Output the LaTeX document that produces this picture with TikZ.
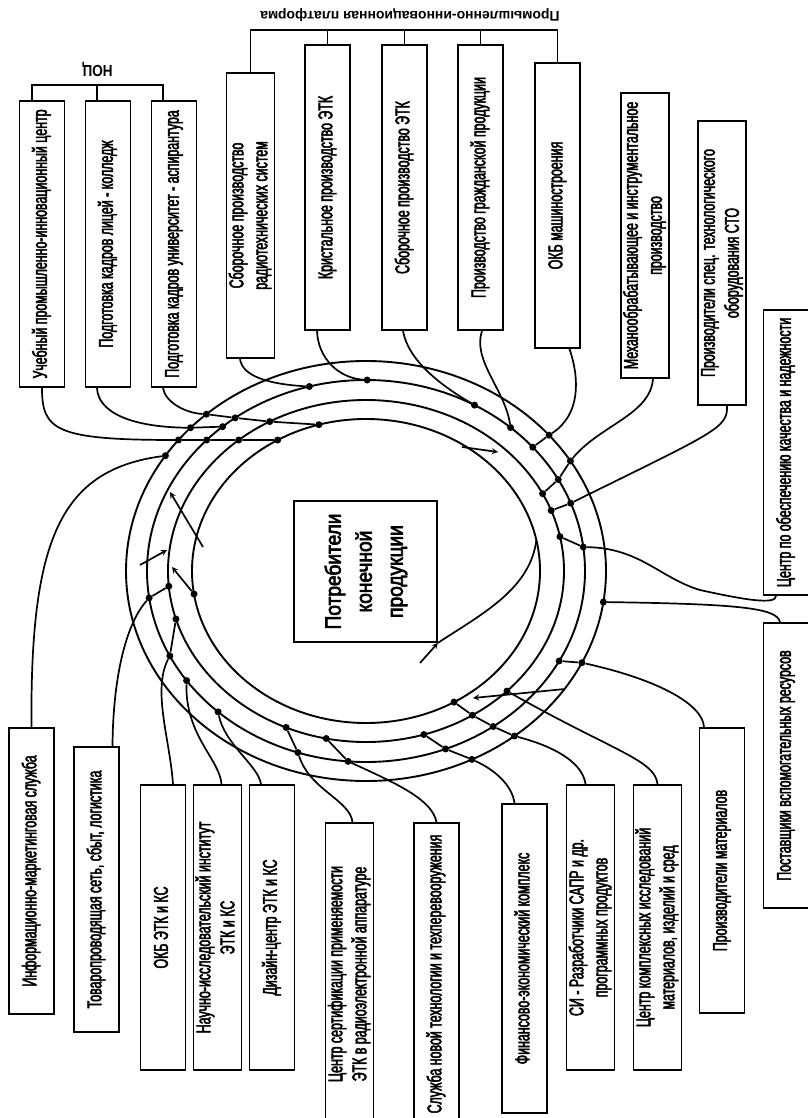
\documentclass[tikz,border=0pt]{standalone}
\usepackage{fontspec}
\setmainfont{Liberation Sans}
\newfontfamily\boxfont[FakeStretch=0.62, FakeBold=2.5]{Liberation Sans}
\newfontfamily\corefont[FakeStretch=0.87, FakeBold=3]{Liberation Sans}
\newfontfamily\headfont[FakeStretch=0.85]{Liberation Sans}
\usepackage{graphicx}
\newcommand{\uptext}[1]{\rotatebox{90}{\begin{tabular}{@{}c@{}}#1\end{tabular}}}

\tikzset{
	block/.style={draw, line width=1.8pt, minimum width=45pt, inner sep=0pt,
		font=\boxfont\fontsize{20}{24}\selectfont},
	ring/.style={line width=1.9pt},
	link/.style={line width=1.7pt},
	dot/.style={circle, fill, inner sep=0pt, minimum size=7pt},
}

\begin{document}
\begin{tikzpicture}[x=1pt, y=-1pt]

\useasboundingbox (0,0) rectangle (807,1118);

% Consumers in the middle
\node [draw,
	line width=1.8pt,
	minimum width=143pt,
	minimum height=141pt,
	font=\corefont\fontsize{22}{31}\selectfont
] (potreb) at (365.5,571.5) {\uptext{Потребители\\конечной\\продукции}};

% Rings
\coordinate (core) at (366,571);
\draw[ring] (core) ellipse [x radius=240, y radius=210];
\draw[ring] (core) ellipse [x radius=219, y radius=191];
\draw[ring] (core) ellipse [x radius=198, y radius=171];
\draw[ring] (core) ellipse [x radius=174, y radius=152];

% NOC blocks
\node[block, minimum height=286pt] (ucheb) at (42,244) {\uptext{Учебный промышленно-инновационный центр}};
\node[block, minimum height=286pt] (licey) at (108,244) {\uptext{Подготовка кадров лицей - колледж}};
\node[block, minimum height=286pt] (univer) at (174,244) {\uptext{Подготовка кадров университет - аспирантура}};

\node[rotate=180, font=\headfont\bfseries\fontsize{16}{18}\selectfont] (noc) at (97.5,69) {НОЦ};
\coordinate (nocbar) at (97,85);
\draw[link] ([xshift=-10pt]ucheb.north) |- (nocbar) -| ([xshift=-11pt]univer.north);
\draw[link] ([xshift=-11pt]licey.north) -- ([xshift=-11pt]licey.north |- nocbar);

% Platform blocks
\node[block, minimum height=285pt] (sbradio) at (250.5,215.5) {\uptext{Сборочное производство\\радиотехнических систем}};
\node[block, minimum height=285pt] (krist) at (327.5,187.5) {\uptext{Кристальное производство ЭТК}};
\node[block, minimum height=285pt] (sbetk) at (404.5,187.5) {\uptext{Сборочное производство ЭТК}};
\node[block, minimum height=285pt] (grazhd) at (480.5,187.5) {\uptext{Производство гражданской продукции}};
\node[block, minimum height=285pt] (okbmash) at (557.5,205.5) {\uptext{ОКБ машиностроения}};

\node[rotate=180, font=\bfseries\fontsize{14}{16}\selectfont] (platform) at (410,15) {Промышленно-инновационная платформа};
\coordinate (platbar) at (404.5,30);
\draw[link] (sbradio.north) |- (platbar) -| (okbmash.north);
\draw[link] (krist.north) -- (krist.north |- platbar);
\draw[link] (sbetk.north) -- (sbetk.north |- platbar);
\draw[link] (grazhd.north) -- (grazhd.north |- platbar);

% Right blocks
\node[block, minimum height=285pt] (mehano) at (645,235.5) {\uptext{Механообрабатывающее и инструментальное\\производство}};
\node[block, minimum height=284pt] (sto) at (722,263) {\uptext{Производители спец. технологического\\оборудования СТО}};
\node[block, minimum height=285pt] (kachestvo) at (786,452.5) {\uptext{Центр по обеспечению качества и надежности}};
\node[block, minimum height=285pt] (postav) at (786,765.5) {\uptext{Поставщики вспомогательных ресурсов}};
\node[block, minimum height=285pt] (materialy) at (722,870.5) {\uptext{Производители материалов}};

% Bottom blocks
\node[block, minimum height=285pt] (kompleks) at (657.5,927.5) {\uptext{Центр комплексных исследований\\материалов, изделий и сред}};
\node[block, minimum height=285pt] (si) at (590.5,927.5) {\uptext{СИ - Разработчики САПР и др.\\программных продуктов}};
\node[block, minimum height=309pt] (finans) at (524.5,958.5) {\uptext{Финансово-экономический комплекс}};
\node[block, minimum height=302pt] (sluzhba) at (436.5,974) {\uptext{Служба новой технологии и техперевооружения}};
\node[block, minimum height=302pt] (sert) at (349.5,974) {\uptext{Центр сертификации применяемости\\ЭТК в радиоэлектронной аппаратуре}};
\node[block, minimum height=285pt] (dizain) at (272,927.5) {\uptext{Дизайн-центр ЭТК и КС}};
\node[block, minimum height=285pt] (nii) at (217.5,927.5) {\uptext{Научно-исследовательский институт\\ЭТК и КС}};
\node[block, minimum height=285pt] (okbetk) at (163,927.5) {\uptext{ОКБ ЭТК и КС}};
\node[block, minimum height=285pt] (tovar) at (96.5,889.5) {\uptext{Товаропроводящая сеть, сбыт, логистика}};
\node[block, minimum height=286pt] (info) at (31.5,871) {\uptext{Информационно-маркетинговая служба}};

% Contact points on the rings
\node[dot] (uc1) at ([shift={(core)}]218.6:240 and 210) {};
\node[dot] (uc2) at ([shift={(core)}]223.3:219 and 191) {};
\node[dot] (uc3) at ([shift={(core)}]230.0:198 and 171) {};
\node[dot] (uc4) at ([shift={(core)}]239.5:174 and 152) {};
\node[dot] (li1) at ([shift={(core)}]223.0:240 and 210) {};
\node[dot] (li2) at ([shift={(core)}]229.1:219 and 191) {};
\node[dot] (un1) at ([shift={(core)}]228.3:240 and 210) {};
\node[dot] (un2) at ([shift={(core)}]233.3:219 and 191) {};
\node[dot] (un3) at ([shift={(core)}]240.9:198 and 171) {};
\node[dot] (un4) at ([shift={(core)}]254.3:174 and 152) {};
\node[dot] (sr1) at ([shift={(core)}]255.0:219 and 191) {};
\node[dot] (kr1) at ([shift={(core)}]270.3:219 and 191) {};
\node[dot] (se1) at ([shift={(core)}]299.7:219 and 191) {};
\node[dot] (gr1) at ([shift={(core)}]311.3:219 and 191) {};
\node[dot] (om1) at ([shift={(core)}]319.7:240 and 210) {};
\node[dot] (om2) at ([shift={(core)}]319.6:219 and 191) {};
\node[dot] (me1) at ([shift={(core)}]328.4:240 and 210) {};
\node[dot] (me2) at ([shift={(core)}]331.4:219 and 191) {};
\node[dot] (me3) at ([shift={(core)}]333.1:198 and 171) {};
\node[dot] (st1) at ([shift={(core)}]339.2:219 and 191) {};
\node[dot] (st2) at ([shift={(core)}]339.3:198 and 171) {};
\node[dot] (ka1) at ([shift={(core)}]352.8:219 and 191) {};
\node[dot] (ka2) at ([shift={(core)}]348.4:198 and 171) {};
\node[dot] (po1) at ([shift={(core)}]8.5:240 and 210) {};
\node[dot] (ma1) at ([shift={(core)}]25.9:240 and 210) {};
\node[dot] (ma2) at ([shift={(core)}]28.1:219 and 191) {};
\node[dot] (ko1) at ([shift={(core)}]44.6:198 and 171) {};
\node[dot] (si1) at ([shift={(core)}]51.8:240 and 210) {};
\node[dot] (si2) at ([shift={(core)}]54.5:219 and 191) {};
\node[dot] (si3) at ([shift={(core)}]57.5:198 and 171) {};
\node[dot] (si4) at ([shift={(core)}]59.6:174 and 152) {};
\node[dot] (fi1) at ([shift={(core)}]63.8:240 and 210) {};
\node[dot] (fi2) at ([shift={(core)}]68.7:219 and 191) {};
\node[dot] (fi3) at ([shift={(core)}]73.0:198 and 171) {};
\node[dot] (sl1) at ([shift={(core)}]94.7:219 and 191) {};
\node[dot] (sl2) at ([shift={(core)}]101.6:198 and 171) {};
\node[dot] (ce1) at ([shift={(core)}]108.1:219 and 191) {};
\node[dot] (ce2) at ([shift={(core)}]113.8:198 and 171) {};
\node[dot] (di1) at ([shift={(core)}]132.5:219 and 191) {};
\node[dot] (ni1) at ([shift={(core)}]145.0:219 and 191) {};
\node[dot] (oe1) at ([shift={(core)}]153.6:219 and 191) {};
\node[dot] (oe2) at ([shift={(core)}]163.7:198 and 171) {};
\node[dot] (to1) at ([shift={(core)}]171.9:219 and 191) {};
\node[dot] (to2) at ([shift={(core)}]174.9:198 and 171) {};
\node[dot] (in1) at ([shift={(core)}]213.3:240 and 210) {};
\node[dot] (ar1) at ([shift={(core)}]171.3:174 and 152) {};
\coordinate (pe1) at ([shift={(core)}]348.3:174 and 152);

% Links from the blocks to the rings
\draw[link] (ucheb.south) .. controls (42,430) and (55,440) .. (uc1) -- (uc2) -- (uc3) -- (uc4);
\draw[link] ([xshift=-11pt]licey.south) .. controls (98,412) and (130,427) .. (li1) -- (li2);
\draw[link] ([xshift=-11pt]univer.south) .. controls (165,402) and (185,413) .. (un1) -- (un2) -- (un3) -- (un4);
\draw[link] ([xshift=-10.5pt]sbradio.south) .. controls (242,375) and (265,384) .. (sr1);
\draw[link] ([xshift=-10.5pt]krist.south) .. controls (318,358) and (338,378) .. (kr1);
\draw[link] ([xshift=-1.5pt]sbetk.south) .. controls (408,360) and (440,385) .. (se1);
\draw[link] ([xshift=1.5pt]grazhd.south) .. controls (472,360) and (505,390) .. (gr1);
\draw[link] ([xshift=12pt]okbmash.south) .. controls (580,380) and (580,415) .. (om1) -- (om2);
\draw[link] ([xshift=8pt]mehano.south) .. controls (650,415) and (600,425) .. (me1) -- (me2) -- (me3);
\draw[link] ([xshift=5pt]sto.south) .. controls (728,428) and (715,432) .. (st1) -- (st2);
\draw[link] ([xshift=-10pt]kachestvo.south) .. controls (776,605) and (745,600) .. (700,590)
	.. controls (660,578) and (640,548) .. (ka1) -- (ka2);
\draw[link] ([xshift=-6pt]postav.north) .. controls (777,608) and (740,604) .. (po1);
\draw[link] ([xshift=-18pt]materialy.north) .. controls (703,705) and (660,680) .. (ma1) -- (ma2);
\draw[link] (kompleks.north) .. controls (655,760) and (615,752) .. (ko1);
\draw[link] ([xshift=-5pt]si.north) .. controls (583,765) and (560,748) .. (si1) -- (si2) -- (si3) -- (si4);
\draw[link] ([xshift=-10pt]finans.north) .. controls (512,785) and (495,770) .. (fi1) -- (fi2) -- (fi3);
\draw[link] (sluzhba.north) .. controls (432,800) and (400,785) .. (sl1) -- (sl2);
\draw[link] ([xshift=3pt]sert.north) .. controls (350,800) and (310,790) .. (ce1) -- (ce2);
\draw[link] ([xshift=-11pt]dizain.north) .. controls (258,765) and (225,745) .. (di1);
\draw[link] ([xshift=4pt]nii.north) .. controls (220,760) and (185,735) .. (ni1);
\draw[link] ([xshift=10pt]okbetk.north) .. controls (170,740) and (152,690) .. (oe1) -- (oe2);
\draw[link] ([xshift=16pt]tovar.north) .. controls (113,680) and (125,625) .. (to1) -- (to2);
\draw[link] (info.north) .. controls (30,540) and (60,470) .. (in1);
\draw[link] (potreb.south east) .. controls (480,615) and (530,590) .. (pe1);

% Arrows between the rings
\coordinate (s1) at (203,547);
\coordinate (t1) at (170,492);
\coordinate (s2) at (140,565);
\coordinate (t2) at (167,550);
\coordinate (t3) at (172,567);
\coordinate (s4) at (462,447);
\coordinate (t4) at (498,452);
\coordinate (s5) at (420,663);
\coordinate (s6) at (565,689);
\coordinate (t6) at (473,698);
\draw[link, -stealth] (s1) -- (t1);
\draw[link, -stealth] (s2) -- (t2);
\draw[link, -stealth] (ar1) -- (t3);
\draw[link, -stealth] (s4) -- (t4);
\draw[link, -stealth] (s5) -- (potreb.south east);
\draw[link, -stealth] (s6) -- (t6);

\end{tikzpicture}
\end{document}
